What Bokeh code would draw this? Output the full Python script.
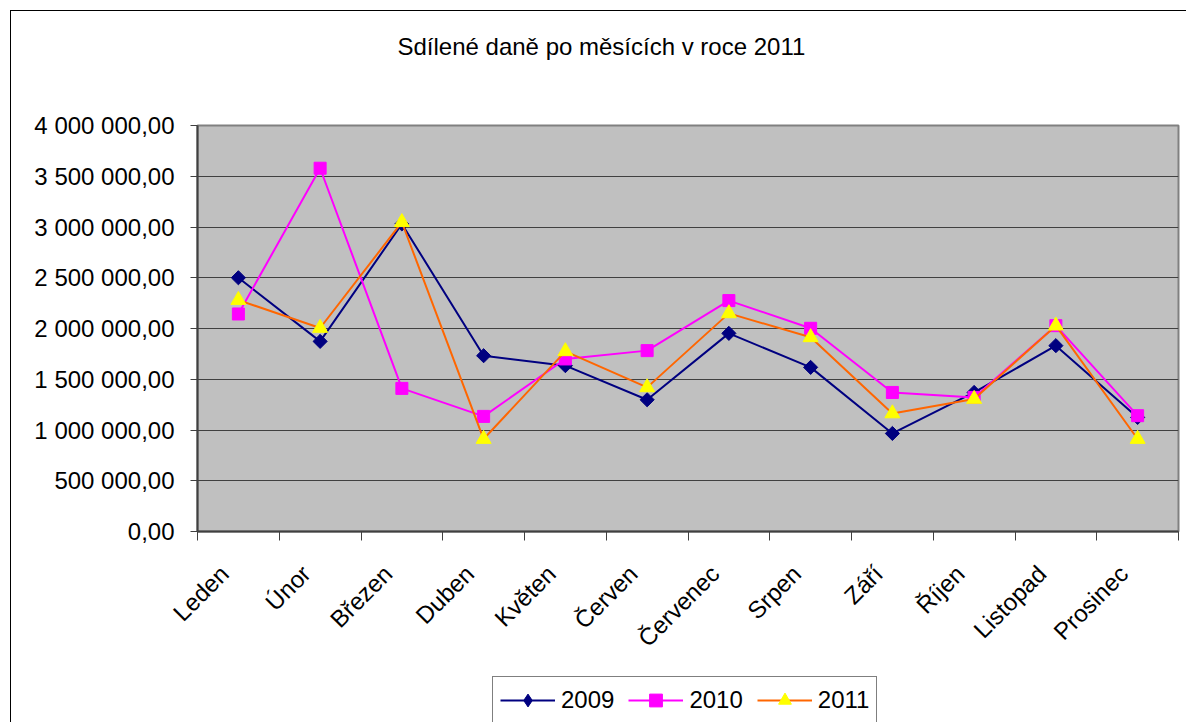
import math
from bokeh.plotting import figure
from bokeh.layouts import column
from bokeh.models import Range1d, FixedTicker, Legend, LegendItem, Title
from bokeh.embed import file_html
from bokeh.resources import INLINE

months = ["Leden", "Únor", "Březen", "Duben", "Květen", "Červen",
          "Červenec", "Srpen", "Září", "Říjen", "Listopad", "Prosinec"]
v2009 = [2500000, 1873000, 3030000, 1732000, 1634000, 1298000,
         1952000, 1617000, 966000, 1370000, 1831000, 1124000]
v2010 = [2143000, 3579000, 1410000, 1134000, 1700000, 1782000,
         2275000, 2002000, 1370000, 1321000, 2028000, 1141000]
v2011 = [2280000, 2005000, 3047000, 911000, 1775000, 1420000,
         2149000, 1913000, 1163000, 1305000, 2028000, 911000]
y_ticks = [0, 500000, 1000000, 1500000, 2000000, 2500000, 3000000, 3500000, 4000000]
y_tick_labels = ["0,00", "500 000,00", "1 000 000,00", "1 500 000,00", "2 000 000,00",
                 "2 500 000,00", "3 000 000,00", "3 500 000,00", "4 000 000,00"]
series_names = ["2009", "2010", "2011"]
title_text = "Sdílené daně po měsících v roce 2011"

FONT = "Liberation Sans"
FS = "24px"
xs = [i + 0.5 for i in range(len(months))]
label_pos = [i + 0.33 for i in range(len(months))]

styles = [
    dict(line_color="#000080", marker="square", angle=math.pi / 4, size=10,
         fill_color="#000080", mline="#000080", leg_marker="diamond"),
    dict(line_color="#FF00FF", marker="square", angle=0.0, size=12,
         fill_color="#FF00FF", mline="#FF00FF", leg_marker="square"),
    dict(line_color="#FF6600", marker="triangle", angle=0.0, size=15,
         fill_color="#FFFF00", mline="#FFFF00", leg_marker="triangle"),
]
values = [v2009, v2010, v2011]

p = figure(width=1175, height=665, output_backend="svg", toolbar_location=None,
           x_range=Range1d(0, len(months)), y_range=Range1d(0, 4000000),
           min_border_left=186, min_border_right=8, min_border_top=114,
           min_border_bottom=145)

p.background_fill_color = "#C0C0C0"
p.border_fill_color = "#FFFFFF"
p.outline_line_color = "#808080"
p.outline_line_width = 2

# title (outermost) and a spacer between it and the plot area
p.title.text = title_text
p.title.text_font = FONT
p.title.text_font_size = FS
p.title.text_font_style = "normal"
p.title.text_color = "#000000"
p.title.align = "left"
p.title.offset = 200
p.title.standoff = 0
p.add_layout(Title(text=" ", text_font_size=FS, standoff=37), "above")

# grid
p.xgrid.visible = False
p.ygrid.ticker = FixedTicker(ticks=y_ticks)
p.ygrid.grid_line_color = "#404040"
p.ygrid.grid_line_width = 1

# y axis
ya = p.yaxis[0]
ya.ticker = FixedTicker(ticks=y_ticks)
ya.major_label_overrides = {float(t): lab for t, lab in zip(y_ticks, y_tick_labels)}
ya.major_label_text_font = FONT
ya.major_label_text_font_size = FS
ya.major_label_text_color = "#000000"
ya.major_label_standoff = 16
ya.major_tick_out = 7
ya.major_tick_in = 0
ya.minor_tick_out = 0
ya.minor_tick_in = 0
ya.axis_line_color = "#404040"
ya.axis_line_width = 2
ya.major_tick_line_color = "#404040"

# x axis
xa = p.xaxis[0]
xa.ticker = FixedTicker(ticks=label_pos, minor_ticks=list(range(len(months) + 1)))
xa.major_label_overrides = {float(x): m for x, m in zip(label_pos, months)}
xa.major_label_orientation = math.pi / 4
xa.major_label_text_font = FONT
xa.major_label_text_font_size = FS
xa.major_label_text_color = "#000000"
xa.major_label_standoff = 29
xa.major_tick_out = 0
xa.major_tick_in = 0
xa.minor_tick_out = 9
xa.minor_tick_in = 0
xa.minor_tick_line_color = "#404040"
xa.axis_line_color = "#404040"
xa.axis_line_width = 2

# series
for vals, st in zip(values, styles):
    p.line(xs, vals, line_color=st["line_color"], line_width=2)
    p.scatter(xs, vals, marker=st["marker"], angle=st["angle"], size=st["size"],
              fill_color=st["fill_color"], line_color=st["mline"])

# legend in its own small figure below the chart (frames are aligned in the column)
pl = figure(width=587, height=46, output_backend="svg", toolbar_location=None,
            x_range=Range1d(100, 101), y_range=Range1d(100, 101),
            min_border_left=186, min_border_right=8, min_border_top=0,
            min_border_bottom=0)
pl.axis.visible = False
pl.grid.visible = False
pl.outline_line_color = None
pl.background_fill_color = "#FFFFFF"
pl.border_fill_color = "#FFFFFF"
pl.margin = (0, 0, 0, 295)

items = []
for name, vals, st in zip(series_names, values, styles):
    lr = pl.line(xs, vals, line_color=st["line_color"], line_width=2)
    mr = pl.scatter(xs, vals, marker=st["leg_marker"], size=st["size"],
                    fill_color=st["fill_color"], line_color=st["mline"])
    items.append(LegendItem(label=name, renderers=[lr, mr]))

legend = Legend(items=items, orientation="horizontal", location="top_left",
                glyph_width=55, glyph_height=32, label_standoff=6, spacing=14,
                padding=7, margin=0,
                label_text_font=FONT, label_text_font_size=FS,
                label_text_color="#000000",
                border_line_color="#000000", border_line_width=1,
                background_fill_color="#FFFFFF", background_fill_alpha=1.0)
pl.add_layout(legend, "center")

layout = column(p, pl, styles={"margin-left": "10px", "margin-top": "10px",
                               "border-left": "1px solid #000000",
                               "border-top": "1px solid #000000"})

open("out.html", "w").write(file_html(layout, INLINE))
